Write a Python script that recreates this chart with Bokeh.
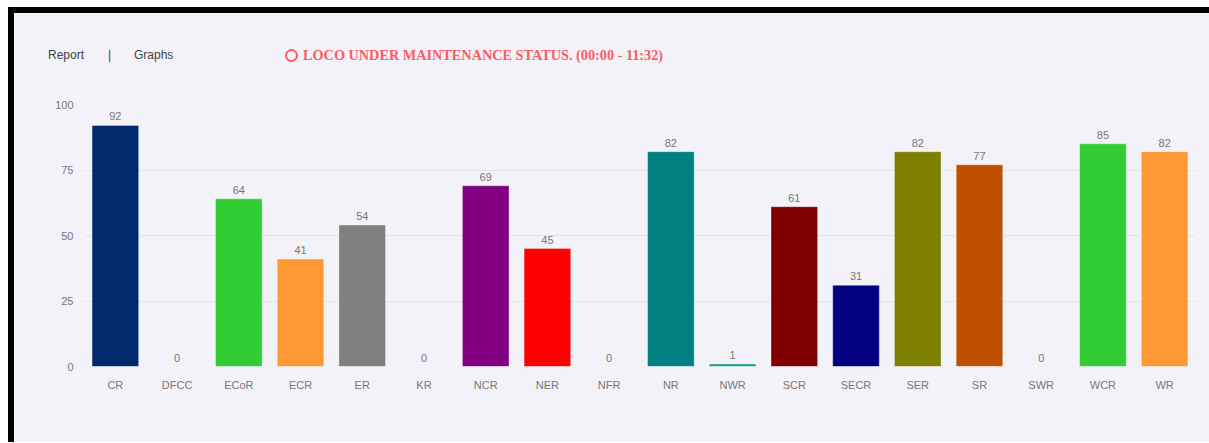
from bokeh.plotting import figure
from bokeh.models import ColumnDataSource, Range1d, LabelSet, FactorRange, Div
from bokeh.core.properties import value
from bokeh.layouts import column
from bokeh.embed import file_html
from bokeh.resources import INLINE

zones = ["CR", "DFCC", "ECoR", "ECR", "ER", "KR", "NCR", "NER", "NFR", "NR",
         "NWR", "SCR", "SECR", "SER", "SR", "SWR", "WCR", "WR"]
counts = [92, 0, 64, 41, 54, 0, 69, 45, 0, 82, 1, 61, 31, 82, 77, 0, 85, 82]
bar_colors = ["#012a6c", "#32cd32", "#32cd32", "#ff9933", "#808080", "#808080",
              "#800080", "#ff0000", "#008080", "#008080", "#1fa08a", "#800000",
              "#000080", "#808000", "#bf5000", "#32cd32", "#32cd32", "#ff9933"]
y_ticks = [0, 25, 50, 75, 100]

header_left = ["Report", "|", "Graphs"]
title_text = "LOCO UNDER MAINTENANCE STATUS. (00:00 - 11:32)"

BG = "#f3f2f8"
AXIS_TXT = "#777777"
TITLE_RED = "#fd5c63"
HEAD_H = 60

src = ColumnDataSource(dict(zone=zones, count=counts, color=bar_colors,
                            label=[str(c) for c in counts]))

p = figure(x_range=FactorRange(*zones, range_padding=0), y_range=Range1d(0, 100),
           width=1195, height=429 - HEAD_H, output_backend="svg", toolbar_location=None,
           min_border_left=70, min_border_right=14, min_border_top=91 - HEAD_H,
           min_border_bottom=76)
p.background_fill_color = BG
p.border_fill_color = BG
p.outline_line_color = None

p.vbar(x="zone", top="count", width=0.755, source=src, fill_color="color",
       line_color="white", line_alpha=0.35, line_width=1)

labels = LabelSet(x="zone", y="count", text="label", source=src,
                  text_align="center", text_baseline="bottom", y_offset=5,
                  text_font_size="11px", text_color=AXIS_TXT,
                  text_font=value("Liberation Sans"))
p.add_layout(labels)

for ax in (p.xaxis, p.yaxis):
    ax.axis_line_color = None
    ax.major_tick_line_color = None
    ax.minor_tick_line_color = None
    ax.major_tick_out = 0
    ax.major_tick_in = 0
    ax.minor_tick_out = 0
    ax.minor_tick_in = 0
    ax.major_label_text_font_size = "11px"
    ax.major_label_text_color = AXIS_TXT
    ax.major_label_text_font = "Liberation Sans"
p.yaxis.ticker = y_ticks
p.yaxis.major_label_standoff = 11
p.xaxis.major_label_standoff = 12
p.xgrid.grid_line_color = None
p.ygrid.grid_line_color = "#e2e2e8"
p.ygrid.grid_line_width = 1

sans = "font-family:'Liberation Sans',Arial,sans-serif;font-size:12px;color:#444;line-height:14px;"
serif = ("font-family:'Liberation Serif','Times New Roman',serif;font-size:14.25px;"
         "font-weight:bold;color:%s;line-height:16px;white-space:nowrap;" % TITLE_RED)
header_html = (
    '<div style="position:relative;width:1195px;height:%dpx;">' % HEAD_H
    + '<span style="position:absolute;left:34px;top:35px;%s">%s</span>' % (sans, header_left[0])
    + '<span style="position:absolute;left:94px;top:35px;%s">%s</span>' % (sans, header_left[1])
    + '<span style="position:absolute;left:120px;top:35px;%s">%s</span>' % (sans, header_left[2])
    + '<span style="position:absolute;left:271px;top:35.5px;box-sizing:border-box;'
      'width:13px;height:13px;border:2.2px solid %s;border-radius:50%%;"></span>' % TITLE_RED
    + '<span style="position:absolute;left:289px;top:34px;%s">%s</span>' % (serif, title_text)
    + '</div>'
)
header = Div(text=header_html, width=1195, height=HEAD_H,
             styles={"background-color": BG, "margin": "0", "padding": "0"})

lay = column(header, p, spacing=0,
             styles={"border-top": "6px solid #000", "border-left": "6px solid #000",
                     "margin-left": "8px", "margin-top": "7px",
                     "background-color": BG})

open("out.html", "w").write(file_html(lay, INLINE))
